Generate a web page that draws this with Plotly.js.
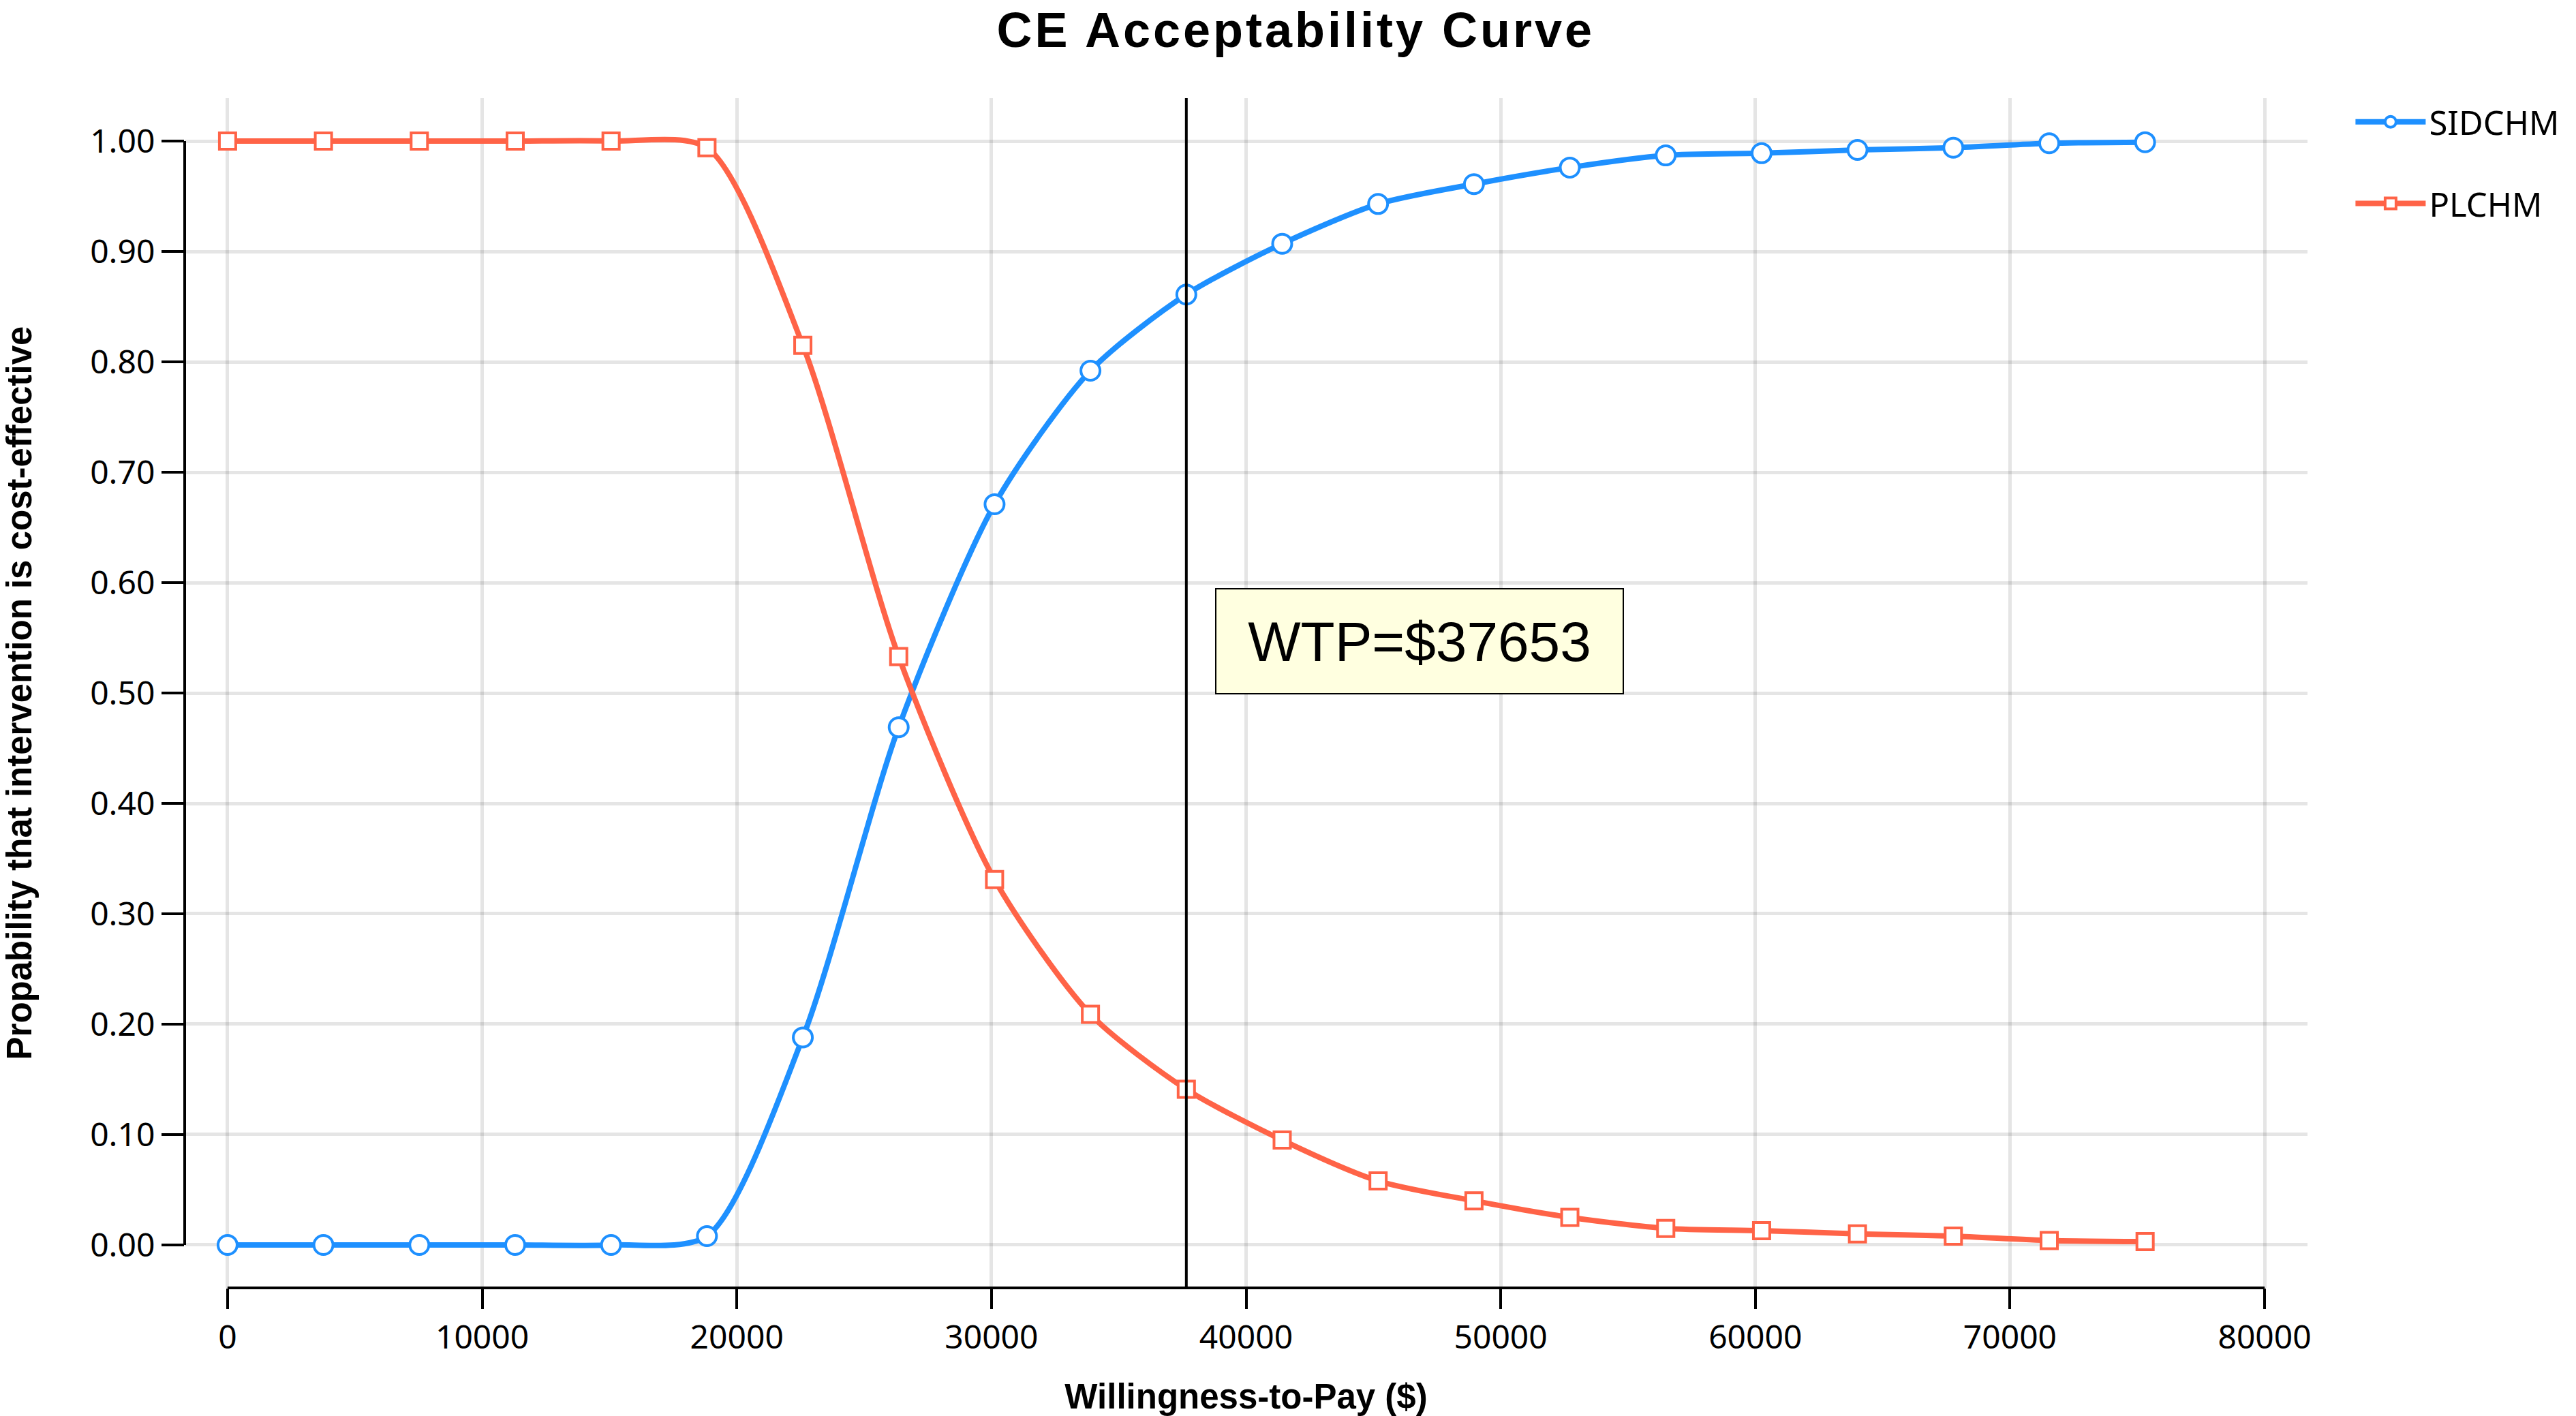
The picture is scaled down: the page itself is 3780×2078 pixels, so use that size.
<!DOCTYPE html>
<html>
<head>
<meta charset="utf-8">
<script src="https://cdn.plot.ly/plotly-3.0.1.min.js"></script>
<style>
    body { margin: 0; padding: 0; background: #fff; }
    #chart { width: 3780px; height: 2078px; }
    /* the reference title is set a little wider than plain Arial bold */
    #chart .gtitle { letter-spacing: 4px; }
</style>
</head>
<body>
<div id="chart"></div>
<script>
// Willingness-to-pay steps (WTP / 10)
var wtp_values = [0, 3765, 7531, 11296, 15061, 18827, 22592, 26357, 30122, 33888, 37653,
                  41418, 45184, 48949, 52714, 56480, 60245, 64010, 67775, 71541, 75306];

var sidchm = [0.000, 0.000, 0.000, 0.000, 0.000, 0.008, 0.188, 0.469, 0.671, 0.792, 0.861,
              0.907, 0.943, 0.961, 0.976, 0.987, 0.989, 0.992, 0.994, 0.998, 0.999];

var plchm = [1.000, 1.000, 1.000, 1.000, 1.000, 0.994, 0.815, 0.533, 0.331, 0.209, 0.141,
             0.095, 0.058, 0.040, 0.025, 0.015, 0.013, 0.010, 0.008, 0.004, 0.003];

var series_names = ['SIDCHM', 'PLCHM'];
var wtp_threshold = 37653;

var x_ticks = [0, 10000, 20000, 30000, 40000, 50000, 60000, 70000, 80000];
var y_ticks = [0, 0.1, 0.2, 0.3, 0.4, 0.5, 0.6, 0.7, 0.8, 0.9, 1.0];

var blue = '#1E90FF';
var red = '#FF6347';
var tick_font = 'Noto Sans, Open Sans, sans-serif';
var bold_font = 'Liberation Sans, Arial, sans-serif';

function draw_ceac()
{
    console.log("Drawing CEAC chart");

    var data = [
        {
            type: 'scatter',
            mode: 'lines+markers',
            name: series_names[0],
            legendgroup: 'a',
            x: wtp_values,
            y: sidchm,
            line: { color: blue, width: 8, shape: 'spline', smoothing: 0.75 },
            marker: { symbol: 'circle', size: 28, color: '#ffffff', line: { color: blue, width: 4 } }
        },
        {
            type: 'scatter',
            mode: 'lines+markers',
            name: series_names[1],
            legendgroup: 'b',
            x: wtp_values,
            y: plchm,
            line: { color: red, width: 8, shape: 'spline', smoothing: 0.75 },
            marker: { symbol: 'square', size: 24, color: '#ffffff', line: { color: red, width: 4 } }
        }
    ];

    var layout = {
        width: 3780,
        height: 2078,
        paper_bgcolor: '#ffffff',
        plot_bgcolor: '#ffffff',
        margin: { l: 271, r: 394, t: 144, b: 188, pad: 0 },
        title: {
            text: 'CE Acceptability Curve',
            font: { family: bold_font, size: 72, color: '#000', weight: 'bold' },
            x: 0.503,
            xanchor: 'center',
            yref: 'container',
            y: 0.991,
            yanchor: 'top'
        },
        xaxis: {
            title: {
                text: 'Willingness-to-Pay ($)',
                font: { family: bold_font, size: 51, color: '#000', weight: 'bold' },
                standoff: 45
            },
            range: [-1684, 81684],
            tickvals: x_ticks,
            tickformat: 'd',
            tickfont: { family: tick_font, size: 48, color: '#000' },
            ticks: 'outside',
            ticklen: 30,
            tickwidth: 4,
            tickcolor: '#000',
            showline: false,
            zeroline: false,
            showgrid: true,
            gridcolor: 'rgba(0,0,0,0.1)',
            gridwidth: 5,
            automargin: false,
            fixedrange: true
        },
        yaxis: {
            title: {
                text: 'Propability that intervention is cost-effective',
                font: { family: bold_font, size: 51, color: '#000', weight: 'bold' },
                standoff: 82
            },
            range: [-0.0389, 1.0389],
            tickvals: y_ticks,
            tickformat: '.2f',
            tickfont: { family: tick_font, size: 48, color: '#000' },
            ticks: 'outside',
            ticklen: 33,
            tickwidth: 4,
            tickcolor: '#000',
            showline: false,
            zeroline: false,
            showgrid: true,
            gridcolor: 'rgba(0,0,0,0.1)',
            gridwidth: 5,
            automargin: false,
            fixedrange: true
        },
        showlegend: true,
        legend: {
            x: 1.021,
            xanchor: 'left',
            y: 1.002,
            yanchor: 'top',
            traceorder: 'grouped',
            tracegroupgap: 53,
            itemwidth: 103,
            bgcolor: 'rgba(0,0,0,0)',
            font: { family: tick_font, size: 49, color: '#000' }
        },
        shapes: [
            // left axis line, only across 0..1
            { type: 'line', xref: 'paper', x0: 0, x1: 0, yref: 'y', y0: 0, y1: 1,
              line: { color: '#000', width: 4 }, layer: 'above' },
            // bottom axis line, only across 0..80000
            { type: 'line', xref: 'x', x0: 0, x1: 80000, yref: 'paper', y0: 0, y1: 0,
              line: { color: '#000', width: 4 }, layer: 'above' },
            // WTP threshold
            { type: 'line', xref: 'x', x0: wtp_threshold, x1: wtp_threshold, yref: 'paper', y0: 0, y1: 1,
              line: { color: '#000', width: 4 }, layer: 'above' }
        ],
        annotations: [
            {
                x: wtp_threshold,
                y: 0.547,
                xref: 'x',
                yref: 'y',
                xanchor: 'left',
                yanchor: 'middle',
                xshift: 42,
                text: 'WTP=$' + wtp_threshold,
                showarrow: false,
                bgcolor: '#FFFFE0',
                bordercolor: '#000',
                borderwidth: 2,
                borderpad: 0,
                width: 596,
                height: 152,
                align: 'center',
                font: { family: 'Liberation Sans, Arial, sans-serif', size: 82, color: '#000' }
            }
        ]
    };

    var config = { displayModeBar: false, staticPlot: true };
    Plotly.newPlot('chart', data, layout, config);
}

window.onload = function() {
    draw_ceac();
};
</script>
</body>
</html>
